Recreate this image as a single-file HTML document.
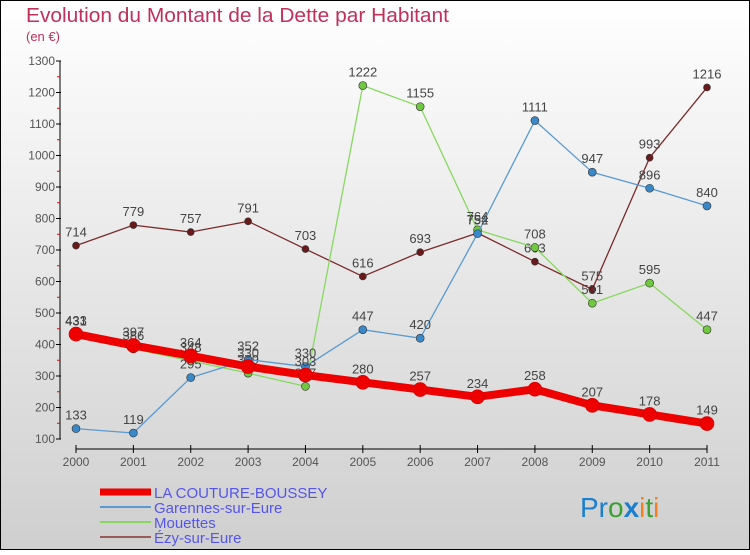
<!DOCTYPE html>
<html><head><meta charset="utf-8"><style>
body{margin:0;width:750px;height:550px;overflow:hidden;font-family:"Liberation Sans",sans-serif}
</style></head><body>
<svg id="chart" width="750" height="550" xmlns="http://www.w3.org/2000/svg">
<defs><linearGradient id="bg" x1="0" y1="0" x2="0" y2="1"><stop offset="0" stop-color="#ffffff"/><stop offset="1" stop-color="#cfcfcf"/></linearGradient></defs>
<rect x="0.5" y="0.5" width="749" height="549" fill="url(#bg)" stroke="#000"/>
<text x="26" y="22" font-size="20" fill="#c0305a" textLength="423" lengthAdjust="spacingAndGlyphs">Evolution du Montant de la Dette par Habitant</text>
<text x="26" y="41" font-size="13" fill="#c0305a">(en €)</text>
<g id="axes"></g><g id="series"></g><g id="legend"></g>
<text x="580" y="517" font-size="28"><tspan fill="#1a7fd0">Pr</tspan><tspan fill="#3aa030">o</tspan><tspan fill="#1a7fd0" font-weight="bold">x</tspan><tspan fill="#f08020">i</tspan><tspan fill="#3aa030">t</tspan><tspan fill="#f08020">i</tspan></text>
</svg>
<script>
const years=[2000,2001,2002,2003,2004,2005,2006,2007,2008,2009,2010,2011];
const yTicks=[100,200,300,400,500,600,700,800,900,1000,1100,1200,1300];
const seriesNames=["LA COUTURE-BOUSSEY","Garennes-sur-Eure","Mouettes","Ézy-sur-Eure"];
const couture=[433,397,364,330,303,280,257,234,258,207,178,149];
const garennes=[133,119,295,352,330,447,420,752,1111,947,896,840];
const mouettes=[431,386,348,309,267,1222,1155,764,708,531,595,447];
const ezy=[714,779,757,791,703,616,693,754,663,575,993,1216];
const NS="http://www.w3.org/2000/svg";
const x=i=>76+i*(707-76)/11;
const y=v=>439-(v-100)*(439-61)/1200;
function mk(tag,attrs,parent){const e=document.createElementNS(NS,tag);for(const k in attrs)e.setAttribute(k,attrs[k]);parent.appendChild(e);return e;}
const ax=document.getElementById('axes');
let l=mk('line',{x1:60,y1:61,x2:60,y2:439,stroke:'#000'},ax);


l=mk('line',{x1:76,y1:449,x2:707,y2:449,stroke:'#000'},ax);


yTicks.forEach((t,i)=>{
 mk('line',{x1:56,y1:y(t),x2:61,y2:y(t),stroke:'#000'},ax);
 if(i<yTicks.length-1)mk('line',{x1:57,y1:y(t+50),x2:60,y2:y(t+50),stroke:'#e00'},ax);
 const tx=mk('text',{x:55,y:y(t)+4,'font-size':12,'text-anchor':'end',fill:'#555'},ax);tx.textContent=t;
 
 
});
years.forEach((yr,i)=>{
 mk('line',{x1:x(i),y1:445,x2:x(i),y2:453,stroke:'#000'},ax);
 const tx=mk('text',{x:x(i),y:466,'font-size':12,'text-anchor':'middle',fill:'#555'},ax);tx.textContent=yr;
 
 
});
const sg=document.getElementById('series');
const defs=[[ezy,'#7a2a2a','#6a1a1a',1.3,3.5,'ezy'],[mouettes,'#88d860','#70c840',1.3,4,'mouettes'],[garennes,'#5a9ad0','#3a88c8',1.3,4,'garennes'],[couture,'#ee0000','#ee0000',8,7,'couture']];
defs.forEach(([d,c,fc,w,r,n])=>{
 const p=mk('polyline',{points:d.map((v,i)=>x(i)+','+y(v)).join(' '),fill:'none',stroke:c,'stroke-width':w,'stroke-linejoin':'round'},sg);
 
 
 d.forEach((v,i)=>{
  const ci=mk('circle',{cx:x(i),cy:y(v),r:r,fill:fc,stroke:n==='couture'?'#c00':'#333','stroke-width':0.6},sg);
  
  
  const t=mk('text',{x:x(i),y:y(v)-9,'font-size':13,'text-anchor':'middle',fill:'#444'},sg);t.textContent=v;
  
  
 });
});
const lg=document.getElementById('legend');
const lc=[['#ee0000',7],['#5a9ad0',2],['#88d860',2],['#9a5a5a',2]];
seriesNames.forEach((s,i)=>{
 const yy=492+i*15;
 const ln=mk('line',{x1:100,y1:yy,x2:151,y2:yy,stroke:lc[i][0],'stroke-width':lc[i][1]},lg);
 
 
 const t=mk('text',{x:154,y:yy+6,'font-size':15,fill:'#5555ee'},lg);t.textContent=s;
 
 
});
</script>
</body></html>
